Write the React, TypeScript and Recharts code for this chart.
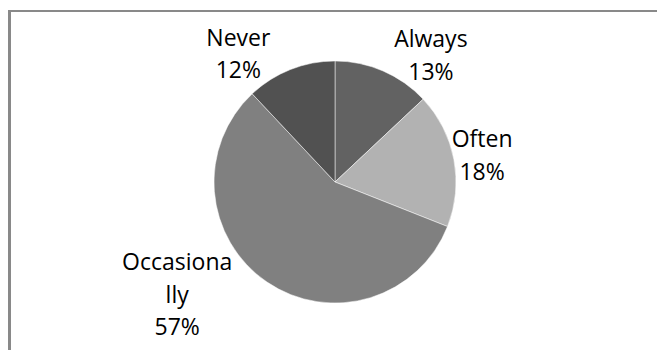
import React from "react";
import { PieChart, Pie, Cell } from "recharts";

const categories = ["Always", "Often", "Occasionally", "Never"];
const shares = [13, 18, 57, 12];
const sliceColors = ["#626262", "#b2b2b2", "#808080", "#515151"];

const data = categories.map((name, i) => ({ name, value: shares[i] }));

const FONT = "'Open Sans', sans-serif";
const FONT_SIZE = 23;
const LINE_GAP = 32.5;
const CHAR_W = 12;
const MAX_CHARS = 9;

function wrapName(name: string): string[] {
  const out: string[] = [];
  let rest = name;
  while (rest.length > MAX_CHARS) {
    out.push(rest.slice(0, MAX_CHARS));
    rest = rest.slice(MAX_CHARS);
  }
  out.push(rest);
  return out;
}

const RADIAN = Math.PI / 180;

function renderLabel(props: any) {
  const { cx, cy, midAngle, outerRadius, name, value } = props;
  const lines = [...wrapName(String(name)), `${value}%`];
  const c = Math.cos(-midAngle * RADIAN);
  const s = Math.sin(-midAngle * RADIAN);
  const longest = Math.max(...lines.map((l) => l.length));
  const half = (longest * CHAR_W) / 2;
  const rx = outerRadius - 16;
  const ry = outerRadius + 16;
  const xc = cx - 7 + Math.sign(c) * (rx * Math.abs(c) + 1.7 * half);
  const yc = cy + ry * s;
  const capH = FONT_SIZE * 0.714;
  const firstBase = yc - ((lines.length - 1) * LINE_GAP) / 2 + capH / 2 - 1;
  return (
    <text
      x={xc}
      y={firstBase}
      textAnchor="middle"
      fill="#000"
      fontFamily={FONT}
      fontSize={FONT_SIZE}
    >
      {lines.map((l, i) => (
        <tspan key={i} x={xc} y={firstBase + i * LINE_GAP}>
          {l}
        </tspan>
      ))}
    </text>
  );
}

export default function App() {
  return (
    <div
      style={{
        position: "fixed",
        left: 0,
        top: 0,
        width: 657,
        height: 350,
        overflow: "hidden",
        background: "#fff",
      }}
    >
      <div
        style={{
          position: "absolute",
          left: 8,
          top: 10,
          width: 649,
          height: 340,
          borderTop: "2px solid #898989",
          borderLeft: "3px solid #898989",
          boxSizing: "border-box",
        }}
      />
      <div style={{ position: "absolute", left: 0, top: 0 }}>
        <PieChart width={657} height={350} margin={{ top: 0, right: 0, bottom: 0, left: 0 }}>
          <Pie
            data={data}
            dataKey="value"
            nameKey="name"
            cx={335}
            cy={182}
            outerRadius={121}
            startAngle={90}
            endAngle={-270}
            stroke="#ffffff"
            strokeWidth={0.5}
            label={renderLabel}
            labelLine={false}
            isAnimationActive={false}
          >
            {data.map((d, i) => (
              <Cell key={d.name} fill={sliceColors[i]} />
            ))}
          </Pie>
        </PieChart>
      </div>
    </div>
  );
}
